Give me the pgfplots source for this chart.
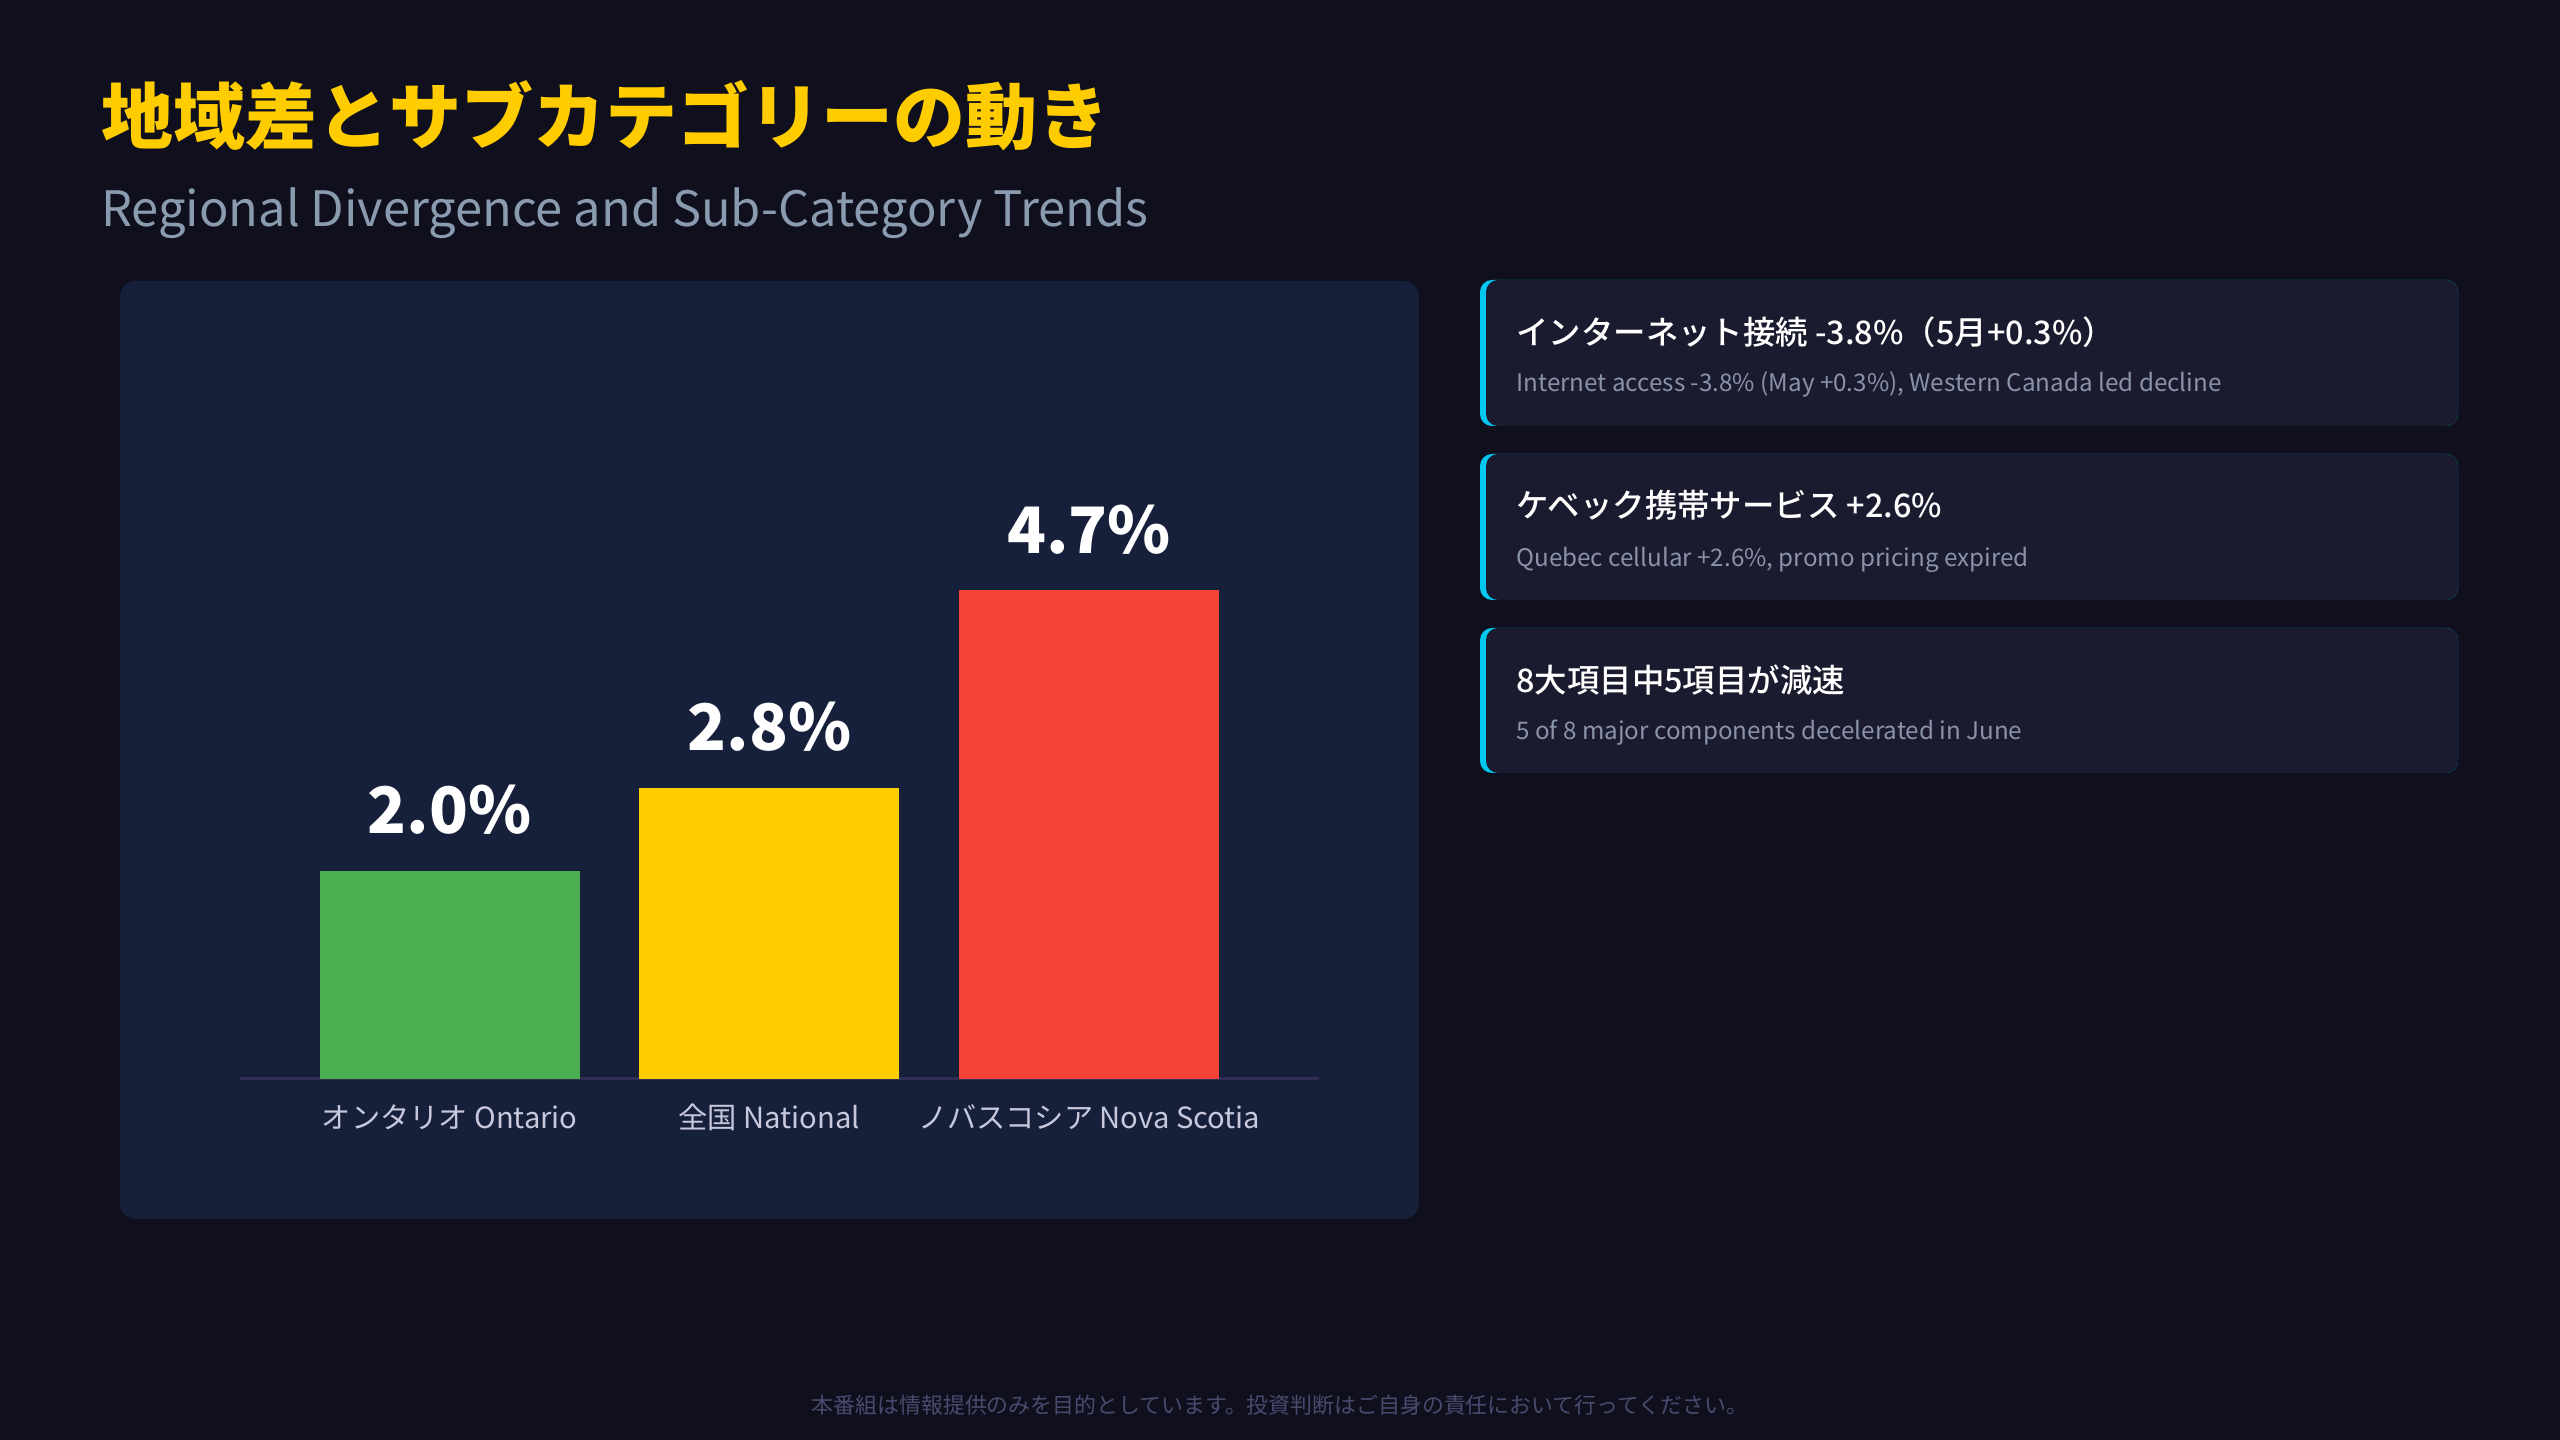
\documentclass[border=0pt]{standalone}
\usepackage{fontspec}
\usepackage{pgfplots}
\pgfplotsset{compat=1.18}
\setmainfont{Noto Sans CJK JP}
\newfontfamily\jpblack{Noto Sans CJK JP Black}
\newfontfamily\jpmedium{Noto Sans CJK JP Medium}

\definecolor{pagebg}{HTML}{0F0F1E}
\definecolor{panelbg}{HTML}{16203B}
\definecolor{cardbg}{HTML}{1A1B2E}
\definecolor{accent}{HTML}{00C8EE}
\definecolor{titlegold}{HTML}{FFCC00}
\definecolor{subgray}{HTML}{8A9BB0}
\definecolor{cardsub}{HTML}{8A93A8}
\definecolor{catlabel}{HTML}{C8C8DC}
\definecolor{baseline}{HTML}{2E2F52}
\definecolor{footer}{HTML}{4A4A6E}
\definecolor{barGreen}{HTML}{4CAF50}
\definecolor{barYellow}{HTML}{FFCC00}
\definecolor{barRed}{HTML}{F44336}

\begin{document}
\begin{tikzpicture}[x=0.5pt,y=0.5pt]
% page and chart panel
\fill[pagebg] (0,0) rectangle (2560,1440);
\fill[panelbg, rounded corners=8pt] (120,221) rectangle (1419,1159);

% headings
\node[anchor=base west, inner sep=0, text=titlegold, font=\jpblack\fontsize{36pt}{36pt}\selectfont]
  at (101,1296) {地域差とサブカテゴリーの動き};
\node[anchor=base west, inner sep=0, text=subgray, font=\fontsize{24.4pt}{24.4pt}\selectfont]
  at (101,1213) {Regional Divergence and Sub-Category Trends};

% note cards with a cyan left edge
\foreach \ylo/\yhi in {1014/1160, 840/986, 667/812} {
  \fill[accent, rounded corners=6pt] (1480,\ylo) rectangle (2458,\yhi);
  \fill[cardbg, rounded corners=6pt] (1486,\ylo) rectangle (2458,\yhi);
}
\node[anchor=base west, inner sep=0, text=white, font=\jpmedium\fontsize{16.2pt}{16.2pt}\selectfont]
  at (1516,1095) {インターネット接続 -3.8\%（5月+0.3\%）};
\node[anchor=base west, inner sep=0, text=cardsub, font=\fontsize{12.1pt}{12.1pt}\selectfont]
  at (1516,1048) {Internet access -3.8\% (May +0.3\%), Western Canada led decline};
\node[anchor=base west, inner sep=0, text=white, font=\jpmedium\fontsize{16.2pt}{16.2pt}\selectfont]
  at (1516,922) {ケベック携帯サービス +2.6\%};
\node[anchor=base west, inner sep=0, text=cardsub, font=\fontsize{12.1pt}{12.1pt}\selectfont]
  at (1516,873) {Quebec cellular +2.6\%, promo pricing expired};
\node[anchor=base west, inner sep=0, text=white, font=\jpmedium\fontsize{16.2pt}{16.2pt}\selectfont]
  at (1516,747) {8大項目中5項目が減速};
\node[anchor=base west, inner sep=0, text=cardsub, font=\fontsize{12.1pt}{12.1pt}\selectfont]
  at (1516,700) {5 of 8 major components decelerated in June};

% footer disclaimer
\node[anchor=base, inner sep=0, text=footer, font=\fontsize{10.95pt}{10.95pt}\selectfont]
  at (1280,26) {本番組は情報提供のみを目的としています。投資判断はご自身の責任において行ってください。};

% regional CPI bars
\begin{axis}[
  at={(120pt,180.5pt)}, anchor=south west,
  scale only axis, width=539.5pt, height=312pt,
  xmin=-0.656, xmax=2.719, ymin=0, ymax=6,
  axis x line=bottom, axis y line=none,
  x axis line style={-, draw=baseline, line width=1.5pt},
  xtick={0,1,2},
  xticklabels={オンタリオ Ontario, 全国 National, ノバスコシア Nova Scotia},
  major tick length=0pt, xtick style={draw=none},
  xticklabel style={anchor=base, yshift=-25pt, text=catlabel, font=\fontsize{14.6pt}{14.6pt}\selectfont},
  ytick=\empty,
  ybar, bar width=130pt, bar shift=0pt,
  /pgf/number format/assume math mode=true,
  nodes near coords={\pgfmathprintnumber[fixed,fixed zerofill,precision=1]{\pgfplotspointmeta}\%},
  every node near coord/.append style={anchor=base, inner sep=0pt, yshift=18.5pt, text=white,
    font=\jpblack\fontsize{32pt}{32pt}\selectfont},
  clip=false,
]
\addplot[fill=barGreen, draw=none] coordinates {(0,2.0)};
\addplot[fill=barYellow, draw=none] coordinates {(1,2.8)};
\addplot[fill=barRed, draw=none] coordinates {(2,4.7)};
\end{axis}

\pgfresetboundingbox
\path[use as bounding box] (0,0) rectangle (2560,1440);
\end{tikzpicture}
\end{document}
